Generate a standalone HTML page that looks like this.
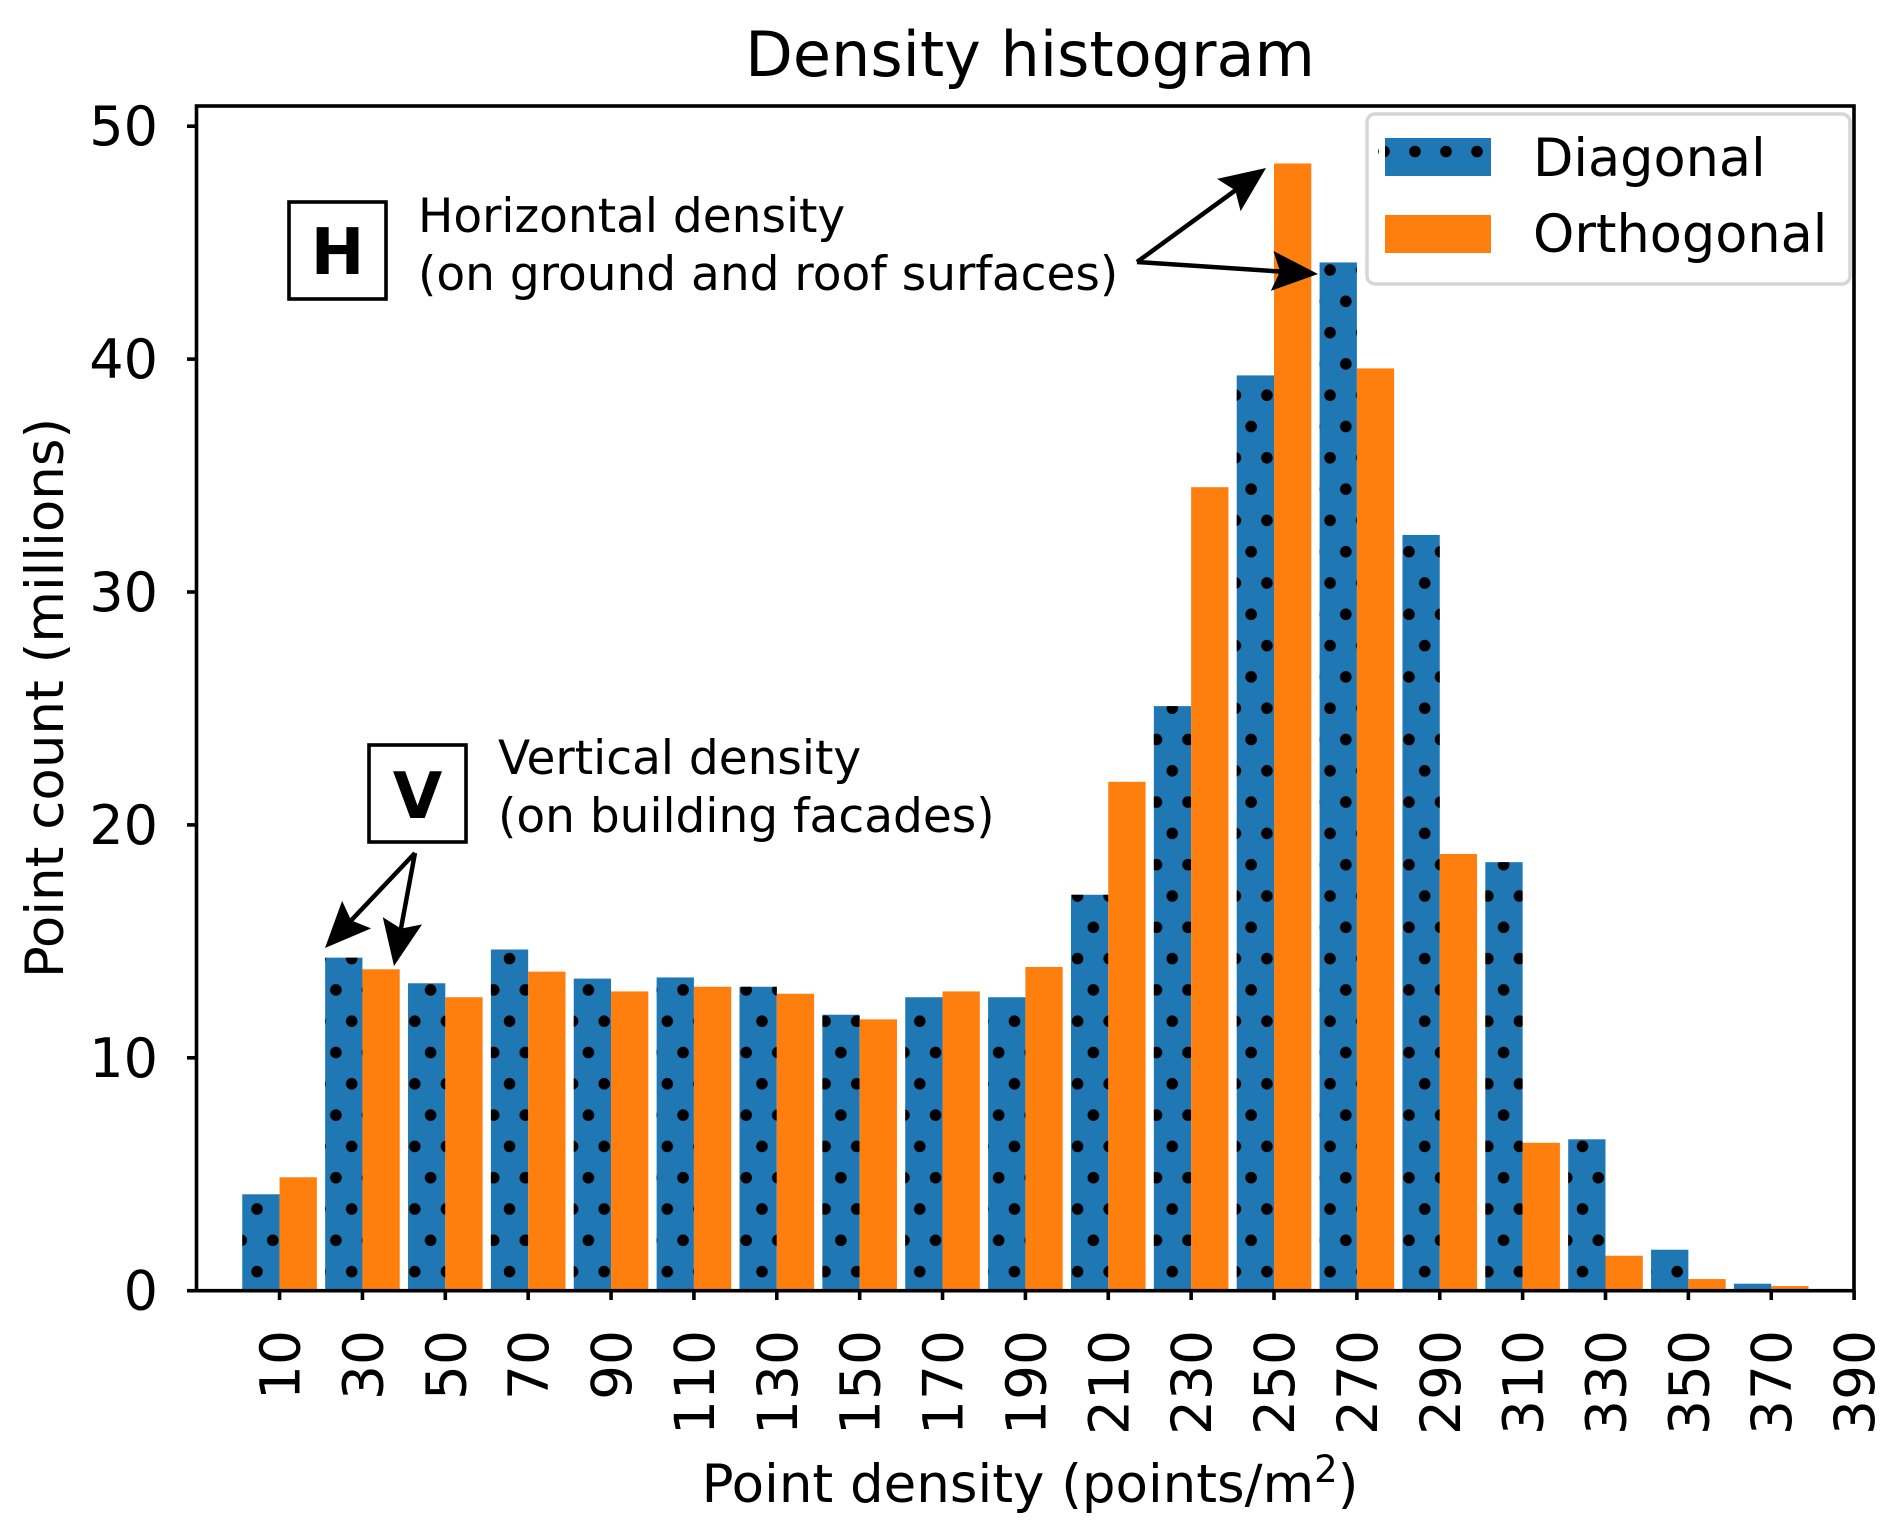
<!DOCTYPE html>
<html><head><meta charset="utf-8"><style>
html,body{margin:0;padding:0;background:#fff;}
svg{display:block;}
text{font-family:"DejaVu Sans","Liberation Sans",sans-serif;fill:#000;}
</style></head><body>
<svg id="s" width="1892" height="1520" viewBox="0 0 1892 1520" xmlns="http://www.w3.org/2000/svg">
<defs>
<pattern id="dots" patternUnits="userSpaceOnUse" x="0" y="0" width="31.56" height="62.6">
<circle cx="4.5" cy="19.6" r="5.8" fill="#000"/>
<circle cx="20.3" cy="50.9" r="5.8" fill="#000"/>
<circle cx="-11.3" cy="50.9" r="5.8" fill="#000"/>
<circle cx="36.06" cy="19.6" r="5.8" fill="#000"/>
</pattern>
</defs>
<g id="bars"></g>
<text x="1030" y="76" font-size="62" text-anchor="middle">Density histogram</text>
<rect x="196.5" y="106" width="1657.5" height="1184.7" fill="none" stroke="#000" stroke-width="3.6"/>
<g id="ticks" stroke="#000" stroke-width="3.6"></g>
<g font-size="54" text-anchor="end">
<text x="158" y="1309.7">0</text>
<text x="158" y="1076.8">10</text>
<text x="158" y="843.9">20</text>
<text x="158" y="611">30</text>
<text x="158" y="378">40</text>
<text x="158" y="145">50</text>
</g>
<g id="xl" font-size="55"></g>
<text x="1030" y="1502" font-size="53" text-anchor="middle">Point density (points/m<tspan font-size="37" dy="-20">2</tspan><tspan dy="20">)</tspan></text>
<text transform="translate(63,698) rotate(-90)" font-size="53" text-anchor="middle">Point count (millions)</text>
<rect x="1367" y="114" width="483" height="170" rx="8" fill="#fff" stroke="#d6d6d6" stroke-width="3.5"/>
<rect x="1385" y="138" width="106" height="38" fill="#1f77b4"/>
<circle cx="1384" cy="151.5" r="5.8" fill="#000"/>
<circle cx="1415" cy="151.5" r="5.8" fill="#000"/>
<circle cx="1446" cy="151.5" r="5.8" fill="#000"/>
<circle cx="1477" cy="151.5" r="5.8" fill="#000"/>
<rect x="1379" y="138" width="6" height="38" fill="#fff"/>
<rect x="1385" y="215" width="106" height="38" fill="#ff7f0e"/>
<text x="1533" y="176" font-size="52.5">Diagonal</text>
<text x="1533" y="252" font-size="52.5">Orthogonal</text>
<rect x="289" y="202" width="97" height="97" fill="#fff" stroke="#000" stroke-width="3.6"/>
<text x="337.5" y="274" font-size="64" font-weight="bold" text-anchor="middle">H</text>
<text x="418" y="232" font-size="47">Horizontal density</text>
<text x="418" y="290" font-size="47">(on ground and roof surfaces)</text>
<rect x="369" y="745" width="97" height="97" fill="#fff" stroke="#000" stroke-width="3.6"/>
<text x="417.5" y="818" font-size="64" font-weight="bold" text-anchor="middle">V</text>
<text x="498" y="774" font-size="47">Vertical density</text>
<text x="498" y="832" font-size="47">(on building facades)</text>
<g id="arrows"></g>
</svg>
<script>
const NS="http://www.w3.org/2000/svg";
const X=v=>196.7+(v+10)*4.1435, Y=v=>1290.7-v*23.29;
const blue=[4.14,14.3,13.2,14.65,13.4,13.45,13.05,11.85,12.6,12.6,17.0,25.1,39.3,44.15,32.45,18.4,6.5,1.76,0.3];
const orng=[4.87,13.8,12.6,13.7,12.85,13.05,12.75,11.65,12.85,13.9,21.85,34.5,48.4,39.6,18.75,6.35,1.5,0.5,0.2];
const g=document.getElementById('bars');
function r(x0,x1,v,f){const e=document.createElementNS(NS,'rect');e.setAttribute('x',X(x0));e.setAttribute('width',X(x1)-X(x0));e.setAttribute('y',Y(v));e.setAttribute('height',Y(0)-Y(v));e.setAttribute('fill',f);g.appendChild(e);}
for(let i=0;i<19;i++){const c=10+20*i;r(c-9,c,blue[i],'#1f77b4');r(c-9,c,blue[i],'url(#dots)');r(c,c+9,orng[i],'#ff7f0e');}
const t=document.getElementById('ticks'),xl=document.getElementById('xl');
for(let i=0;i<20;i++){const c=10+20*i,x=X(c);const l=document.createElementNS(NS,'line');l.setAttribute('x1',x);l.setAttribute('x2',x);l.setAttribute('y1',1290.7);l.setAttribute('y2',1300);t.appendChild(l);
const tx=document.createElementNS(NS,'text');tx.setAttribute('transform',`translate(${x+20},1330) rotate(-90)`);tx.setAttribute('text-anchor','end');tx.textContent=String(c);xl.appendChild(tx);}
for(let v=0;v<=50;v+=10){const l=document.createElementNS(NS,'line');l.setAttribute('x1',187);l.setAttribute('x2',196.5);l.setAttribute('y1',Y(v));l.setAttribute('y2',Y(v));t.appendChild(l);}
const a=document.getElementById('arrows');
function arrow(x0,y0,x1,y1){const dx=x1-x0,dy=y1-y0,L=Math.hypot(dx,dy),ux=dx/L,uy=dy/L,px=-uy,py=ux;
const hl=46,hw=20,bx=x1-ux*hl,by=y1-uy*hl,nx=x1-ux*(hl-8),ny=y1-uy*(hl-8);
const ln=document.createElementNS(NS,'line');ln.setAttribute('x1',x0);ln.setAttribute('y1',y0);ln.setAttribute('x2',nx);ln.setAttribute('y2',ny);ln.setAttribute('stroke','#000');ln.setAttribute('stroke-width',4.5);a.appendChild(ln);
const p=document.createElementNS(NS,'polygon');p.setAttribute('points',`${x1},${y1} ${bx+px*hw},${by+py*hw} ${nx},${ny} ${bx-px*hw},${by-py*hw}`);p.setAttribute('fill','#000');a.appendChild(p);}
arrow(1137,262,1266,168);arrow(1137,262,1318,274);
arrow(415,853,325,948);arrow(415,853,394,966);
</script>
</body></html>
